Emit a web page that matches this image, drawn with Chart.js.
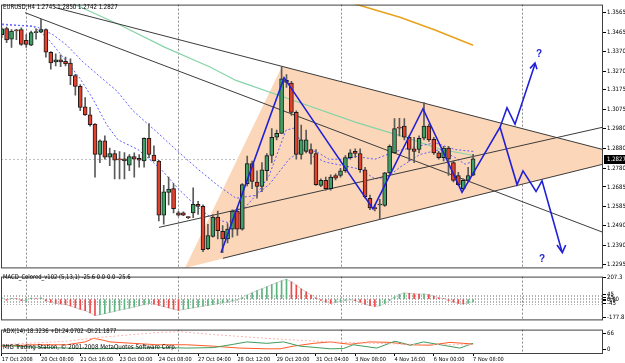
<!DOCTYPE html>
<html><head><meta charset="utf-8">
<script src="https://cdn.jsdelivr.net/npm/chart.js@4.4.1/dist/chart.umd.min.js"></script>
<style>
html,body{margin:0;padding:0;background:#fff;width:625px;height:363px;overflow:hidden;position:relative;}
canvas{position:absolute;left:0;}
.t{position:absolute;left:3px;font-family:"Liberation Sans Narrow","Arial Narrow","DejaVu Sans Condensed","Liberation Sans",sans-serif;font-size:7px;line-height:8px;color:#000;white-space:nowrap;transform:scaleX(0.86);transform-origin:0 0;}
</style></head><body>
<canvas id="main" width="625" height="273" style="top:0px"></canvas>
<canvas id="macd" width="625" height="53" style="top:272px"></canvas>
<canvas id="adx" width="625" height="38" style="top:325px"></canvas>
<div class="t" style="top:3px">EURUSD,H4 1.2745 1.2850 1.2742 1.2827</div>
<div class="t" style="top:273px;font-size:6.5px;transform:scaleX(0.9)">MACD_Colored_v102 (5,13,1) -25.6 0.0 0.0 -25.6</div>
<div class="t" style="top:327px;font-size:6.5px;transform:scaleX(0.9)">ADX(14) 18.3236 +DI:24.0702 -DI:21.1877</div>
<div class="t" style="top:343px;font-size:6.5px;transform:scaleX(0.95)">MIG Trading Station, © 2001-2008 MetaQuotes Software Corp.</div>
<script>
// ---------------- DATA ----------------
const opens = [1.3454,1.3485,1.3431,1.3476,1.3480,1.3426,1.3401,1.3464,1.3467,1.3480,1.3365,1.3316,1.3327,1.3320,1.3311,1.3247,1.3193,1.3090,1.3049,1.3002,1.2849,1.2918,1.2836,1.2853,1.2825,1.2827,1.2795,1.2838,1.2830,1.2816,1.2931,1.2846,1.2816,1.2543,1.2658,1.2677,1.2554,1.2554,1.2532,1.2554,1.2598,1.2587,1.2374,1.2435,1.2533,1.2461,1.2423,1.2472,1.2563,1.2472,1.2702,1.2803,1.2710,1.2688,1.2767,1.2844,1.2936,1.2956,1.3223,1.3209,1.3062,1.2849,1.2865,1.2874,1.2854,1.2693,1.2718,1.2677,1.2743,1.2743,1.2767,1.2833,1.2865,1.2854,1.2772,1.2628,1.2581,1.2594,1.2592,1.2756,1.2857,1.2987,1.2992,1.2936,1.2877,1.2874,1.2931,1.2992,1.2926,1.2857,1.2833,1.2882,1.2808,1.2743,1.2677,1.2718,1.2745];
const highs = [1.3488,1.3492,1.3480,1.3481,1.3488,1.3454,1.3472,1.3483,1.3532,1.3483,1.3369,1.3357,1.3352,1.3341,1.3332,1.3254,1.3202,1.3136,1.3087,1.3005,1.2923,1.2943,1.2882,1.2870,1.2864,1.2859,1.2849,1.2858,1.2849,1.2933,1.3005,1.2893,1.2820,1.2693,1.2735,1.2702,1.2562,1.2559,1.2535,1.2681,1.2613,1.2595,1.2497,1.2546,1.2563,1.2490,1.2500,1.2570,1.2579,1.2702,1.2841,1.2816,1.2767,1.2808,1.2854,1.2980,1.2972,1.3292,1.3252,1.3218,1.3070,1.2997,1.2972,1.2903,1.2874,1.2726,1.2735,1.2746,1.2751,1.2779,1.2844,1.2874,1.2877,1.2877,1.2784,1.2644,1.2594,1.2623,1.2759,1.2898,1.3030,1.3031,1.3030,1.2943,1.2936,1.2943,1.3111,1.3002,1.2936,1.2865,1.2890,1.2890,1.2816,1.2759,1.2726,1.2784,1.2850];
const lows = [1.3439,1.3414,1.3390,1.3429,1.3400,1.3390,1.3398,1.3431,1.3464,1.3341,1.3280,1.3296,1.3292,1.3296,1.3202,1.3149,1.3070,1.3046,1.2992,1.2735,1.2808,1.2825,1.2792,1.2726,1.2726,1.2726,1.2767,1.2735,1.2785,1.2785,1.2833,1.2815,1.2513,1.2497,1.2595,1.2554,1.2537,1.2540,1.2525,1.2530,1.2546,1.2358,1.2369,1.2431,1.2423,1.2353,1.2402,1.2431,1.2441,1.2467,1.2690,1.2677,1.2628,1.2661,1.2718,1.2808,1.2923,1.2956,1.3188,1.3046,1.2825,1.2825,1.2857,1.2800,1.2693,1.2686,1.2669,1.2669,1.2721,1.2735,1.2759,1.2825,1.2834,1.2759,1.2628,1.2570,1.2564,1.2521,1.2587,1.2751,1.2854,1.2943,1.2923,1.2816,1.2808,1.2857,1.2923,1.2915,1.2849,1.2825,1.2816,1.2743,1.2710,1.2693,1.2669,1.2710,1.2742];
const closes = [1.3483,1.3428,1.3472,1.3473,1.3405,1.3405,1.3464,1.3466,1.3480,1.3365,1.3311,1.3327,1.3316,1.3306,1.3247,1.3193,1.3087,1.3049,1.3000,1.2849,1.2918,1.2836,1.2853,1.2820,1.2822,1.2817,1.2838,1.2825,1.2820,1.2931,1.2849,1.2816,1.2543,1.2661,1.2674,1.2575,1.2543,1.2543,1.2530,1.2598,1.2587,1.2369,1.2440,1.2533,1.2464,1.2423,1.2472,1.2563,1.2472,1.2697,1.2803,1.2713,1.2688,1.2771,1.2844,1.2936,1.2956,1.3231,1.3213,1.3062,1.2849,1.2923,1.2923,1.2854,1.2697,1.2718,1.2677,1.2735,1.2730,1.2767,1.2833,1.2858,1.2854,1.2772,1.2636,1.2579,1.2576,1.2598,1.2756,1.2890,1.2980,1.2982,1.2936,1.2874,1.2865,1.2931,1.2992,1.2923,1.2857,1.2833,1.2882,1.2825,1.2718,1.2697,1.2718,1.2743,1.2827];

const priceTicks = [1.3565,1.3465,1.3370,1.3270,1.3175,1.3075,1.2980,1.2880,1.2780,1.2685,1.2585,1.2490,1.2390,1.2295];
const currentPrice = 1.2827;
const timeLabelBars = [0,8,16,24,32,40,48,56,64,72,80,88,96];
const timeLabels = ['17 Oct 2008','20 Oct 08:00','21 Oct 16:00','23 Oct 00:00','24 Oct 08:00','27 Oct 04:00','28 Oct 12:00','29 Oct 20:00','31 Oct 04:00','3 Nov 08:00','4 Nov 16:00','6 Nov 00:00','7 Nov 08:00'];
const separatorBars = [5,36,69,106];

// moving averages
const greenMaX = [11.9,15.34,24.09,33.26,42.42,47.72,60.75,72.16,82.55,89.47,96.19];
const greenMaY = [1.3640,1.3601,1.3503,1.3390,1.3291,1.3223,1.3110,1.3011,1.2933,1.2874,1.2844];
const orangeMaX = [69.9,73.0,81.1,88.25,96.0];
const orangeMaY = [1.3626,1.3601,1.3542,1.3478,1.3400];
const dotFastX = [0.06,6.37,9.23,12.48,15.95,18.59,21.45,23.69,27.76,32.44,35.91,39.37,42.63,46.09,48.53,51.79,54.44,57.90,59.53,61.37,63.40,66.05,70.12,72.97,76.03,78.68,81.12,85.19,89.27,92.32,94.36,96.19];
const dotFastY = [1.3504,1.3498,1.3439,1.3341,1.3233,1.3129,1.2997,1.2923,1.2874,1.2775,1.2677,1.2594,1.2530,1.2505,1.2554,1.2643,1.2741,1.2972,1.2982,1.2888,1.2839,1.2810,1.2790,1.2775,1.2726,1.2736,1.2785,1.2849,1.2874,1.2834,1.2800,1.2815];
const dotSlowX = [0.06,7.19,10.45,13.3,16.56,20.02,23.48,26.74,31.83,35.91,39.98,44.05,47.72,51.79,54.64,58.52,61.37,64.01,66.66,70.12,72.16,76.03,80.10,84.17,88.25,92.32,96.19];
const dotSlowY = [1.3508,1.3493,1.3454,1.3400,1.3316,1.3242,1.3169,1.3070,1.2957,1.2864,1.2775,1.2692,1.2628,1.2643,1.2702,1.2825,1.2874,1.2864,1.2825,1.2825,1.2839,1.2825,1.2864,1.2888,1.2908,1.2874,1.2864];

// trend lines [x1, y1, x2, y2]
const trendLines = [
  [4.75,1.3565,122.46,1.2456],
  [10.86,1.3591,122.46,1.2874],
  [32.04,1.2481,122.46,1.2987],
  [45.07,1.2325,122.46,1.2800]
];
const pennantX = [37.33,57.09,122.5,122.5,37.33];
const pennantY = [1.2276,1.3294,1.2874,1.2800,1.2276];

// hand-drawn wave projection
const waveX = [44.67,57.5,75.62,85.8,93.75,101.49,102.91,104.54,108.61];
const waveY = [1.2353,1.3237,1.2574,1.3080,1.2658,1.2987,1.3085,1.3002,1.3306];
const wave2X = [101.49,104.95,106.17,108.82,110.04,114.11];
const wave2Y = [1.2987,1.2697,1.2766,1.2662,1.2716,1.2358];
const arrowUpX = [107.6,108.61,109.02];
const arrowUpY = [1.3284,1.3311,1.3279];
const arrowDnX = [113.09,114.18,114.86];
const arrowDnY = [1.2392,1.2354,1.2392];
const questionX = [109.43,110.04];
const questionY = [1.3355,1.2318];

// MACD
const macdValues = [12,-10,8,6,-14,-12,10,5,12,
 -18,-30,-40,-46,-52,-66,-82,-98,-112,-132,-158,
 -150,-140,-128,-118,-106,-96,-86,-76,-64,-52,-40,
 -48,-60,-72,-84,-96,-108,
 -100,-92,-84,-76,-68,-60,-52,-44,-36,-28,-18,-8,
 15,40,62,82,100,120,140,158,178,192,
 168,135,100,70,40,12,
 -12,-28,-40,-32,-22,
 -12,-6,-14,-30,
 -50,-62,-70,-64,
 -42,-14,
 22,46,60,
 56,52,48,50,44,30,
 14,4,
 -12,-28,-42,-46,-38,-25.6];
const macdTicks = [207.3,45,15,0,-15,-45,-177.8];
const macdTickLabels = ['207.3','45','15','0.00','-15','-45','-177.8'];
const macdLevels = [45,30,15,0,-15,-30,-45];

// ADX
const minusDiX = [0,6.4,13.2,17,18.7,20.5,22,26.8,31.6,37.7,43.1,48.5,54,56.7,59.4,63.5,66.9,70.9,75,79.1,83.2,87.2,91.3,94,96];
const minusDiY = [12,18,18,30,45,38,30,24,18,18,12,4,1,1,12,24,30,20,30,28,18,16,28,24,21.19];
const plusDiX = [0,6.4,13.2,18.7,26.8,33.6,37.7,43.1,47.2,49.9,54,57.4,60.8,64.2,66.9,69.6,71.6,76.4,80.1,83.2,85.9,89.9,93.3,96];
const plusDiY = [16,8,4,1,4,6,4,6,20,30,24,30,12,6,1,2,18,4,33,16,30,16,4,24.07];
const adxX = [0,13.2,20,26.8,32.2,36.3,43.1,51.2,58,64.2,69.6,76.4,83.2,89.9,96];
const adxY = [18,33,49,61,70,73,61,49,40,33,28,24,20,18,18.32];
const adxTicks = [66,0];

// ---------------- STYLE / HELPERS ----------------
const FONT = '"Liberation Sans Narrow","Arial Narrow","DejaVu Sans Condensed","Liberation Sans",sans-serif';
const X_MIN = -0.1426, X_MAX = 122.46;
const pts = (xs, ys) => xs.map((x, k) => ({x, y: ys[k]}));
const lineDs = (data, color, width, extra) => Object.assign({type:'line', data, borderColor:color, borderWidth:width, pointRadius:0, fill:false, tension:0, clip:0}, extra || {});

const framePlugin = {
  id:'frame',
  afterDraw(chart){
    const {ctx, chartArea:ca} = chart;
    ctx.save(); ctx.strokeStyle = '#404040'; ctx.lineWidth = 1;
    ctx.strokeRect(ca.left+0.5, ca.top+0.5, ca.right-ca.left-1, ca.bottom-ca.top-1);
    ctx.restore();
  }
};
const sepPlugin = {
  id:'sep',
  beforeDatasetsDraw(chart){
    const {ctx, chartArea:ca, scales} = chart;
    ctx.save(); ctx.strokeStyle = '#8a8a8a'; ctx.lineWidth = 1; ctx.setLineDash([2,2]);
    separatorBars.forEach(b => {
      const px = Math.round(scales.x.getPixelForValue(b)) + 0.5;
      ctx.beginPath(); ctx.moveTo(px, ca.top); ctx.lineTo(px, ca.bottom); ctx.stroke();
    });
    ctx.restore();
  }
};
const rightAxis = (min, max, ticks, fmt) => ({
  position:'right', min, max,
  afterBuildTicks: s => { s.ticks = ticks.map(v => ({value:v})); },
  afterFit: s => { s.width = 22; },
  grid:{drawOnChartArea:false, drawTicks:true, tickLength:3, color:'#000'},
  border:{display:false},
  ticks:{autoSkip:false, padding:1, color:'#000', font:{family:FONT, size:6}, callback: fmt}
});
const xAxisHidden = {type:'linear', min:X_MIN, max:X_MAX, offset:false, display:false};
const common = {
  animation:false, responsive:false, devicePixelRatio:1,
  plugins:{legend:{display:false}, tooltip:{enabled:false}}
};

// ---------------- MAIN CHART ----------------
const wickData = lows.map((l, i) => ({x:i, y:[l, highs[i]]}));
const bodyData = opens.map((o, i) => ({x:i, y:[o, closes[i]]}));
const bodyColors = opens.map((o, i) => closes[i] >= o ? '#3f9f66' : '#e4412c');

const mainPlugin = {
  id:'mainDeco',
  beforeDatasetsDraw(chart){
    const {ctx, chartArea:ca, scales:{y}} = chart;
    const py = Math.round(y.getPixelForValue(currentPrice)) + 0.5;
    ctx.save(); ctx.strokeStyle = '#c0c0c0'; ctx.lineWidth = 1; ctx.setLineDash([2,2]);
    ctx.beginPath(); ctx.moveTo(ca.left, py); ctx.lineTo(ca.right, py); ctx.stroke();
    ctx.restore();
  },
  afterDatasetsDraw(chart){
    const {ctx, scales:{x, y}} = chart;
    ctx.save(); ctx.fillStyle = '#2424d8'; ctx.font = 'bold 10px "Liberation Sans",sans-serif';
    ctx.textAlign = 'center'; ctx.textBaseline = 'middle';
    questionX.forEach((qx, k) => ctx.fillText('?', x.getPixelForValue(qx), y.getPixelForValue(questionY[k])));
    ctx.restore();
  },
  afterDraw(chart){
    const {ctx, chartArea:ca, scales:{y}} = chart;
    const py = Math.round(y.getPixelForValue(currentPrice));
    ctx.save(); ctx.fillStyle = '#000'; ctx.fillRect(ca.right+1, py-4, 22, 9);
    ctx.fillStyle = '#fff'; ctx.font = '6px ' + FONT; ctx.textBaseline = 'middle'; ctx.textAlign = 'left';
    ctx.fillText(currentPrice.toFixed(4), ca.right+4, py+0.5);
    ctx.restore();
  }
};

new Chart(document.getElementById('main'), {
  type:'bar',
  data:{datasets:[
    lineDs(pts(pennantX, pennantY), 'rgba(0,0,0,0)', 0, {fill:'shape', backgroundColor:'#fbd6b8', order:20}),
    lineDs(pts(greenMaX, greenMaY), '#86d3a8', 1.2, {order:15}),
    lineDs(pts(orangeMaX, orangeMaY), '#e8a31c', 1.6, {order:15}),
    lineDs(pts(dotFastX, dotFastY), '#6060ff', 1, {borderDash:[2,2], order:14}),
    lineDs(pts(dotSlowX, dotSlowY), '#6060ff', 1, {borderDash:[2,2], order:14}),
    ...trendLines.map(t => lineDs([{x:t[0], y:t[1]}, {x:t[2], y:t[3]}], '#3c3c3c', 1, {order:13})),
    {type:'bar', data:wickData, backgroundColor:'#5a5a5a', barThickness:1, grouped:false, order:8},
    {type:'bar', data:bodyData, backgroundColor:bodyColors, borderColor:'#1a1a1a', borderWidth:1, borderSkipped:false, barThickness:4, minBarLength:1, grouped:false, order:7},
    lineDs(pts(waveX, waveY), '#2020d8', 1.6, {order:2}),
    lineDs(pts(wave2X, wave2Y), '#2020d8', 1.6, {order:2}),
    lineDs(pts(arrowUpX, arrowUpY), '#2020d8', 1.6, {order:1}),
    lineDs(pts(arrowDnX, arrowDnY), '#2020d8', 1.6, {order:1})
  ]},
  options:Object.assign({}, common, {
    layout:{padding:{left:1, right:0, top:1, bottom:1}},
    scales:{
      x:xAxisHidden,
      y:rightAxis(1.22739, 1.36058, priceTicks, v => Number(v).toFixed(4))
    }
  }),
  plugins:[sepPlugin, mainPlugin, framePlugin]
});

// ---------------- MACD CHART ----------------
const macdColors = macdValues.map((v, i) => (i === 0 || v >= macdValues[i-1]) ? '#5cb47e' : '#ee4848');
const macdPlugin = {
  id:'macdLevels',
  beforeDatasetsDraw(chart){
    const {ctx, chartArea:ca, scales:{y}} = chart;
    ctx.save(); ctx.strokeStyle = '#b0b0b0'; ctx.lineWidth = 1; ctx.setLineDash([1,2]);
    macdLevels.forEach(l => {
      const py = Math.round(y.getPixelForValue(l)) + 0.5;
      ctx.beginPath(); ctx.moveTo(ca.left, py); ctx.lineTo(ca.right, py); ctx.stroke();
    });
    ctx.restore();
  }
};
new Chart(document.getElementById('macd'), {
  type:'bar',
  data:{datasets:[
    lineDs(macdValues.map((v, i) => ({x:i, y:v})), '#d2d2d2', 1, {order:5}),
    {type:'bar', data:macdValues.map((v, i) => ({x:i, y:v})), backgroundColor:macdColors, barThickness:1, grouped:false, order:3}
  ]},
  options:Object.assign({}, common, {
    layout:{padding:{left:1, right:0, top:1, bottom:1}},
    scales:{
      x:xAxisHidden,
      y:rightAxis(-205.2, 218.1, macdTicks, (v, k) => macdTickLabels[k])
    }
  }),
  plugins:[sepPlugin, macdPlugin, framePlugin]
});

// ---------------- ADX CHART ----------------
new Chart(document.getElementById('adx'), {
  type:'line',
  data:{datasets:[
    lineDs(pts(adxX, adxY), '#ffb4b4', 1, {borderDash:[2,2]}),
    lineDs(pts(plusDiX, plusDiY), '#3f9c5e', 1),
    lineDs(pts(minusDiX, minusDiY), '#ff5a26', 1)
  ]},
  options:Object.assign({}, common, {
    layout:{padding:{left:1, right:0, top:1, bottom:0}},
    scales:{
      x:{type:'linear', min:X_MIN, max:X_MAX, offset:false, position:'bottom',
         afterBuildTicks: s => { s.ticks = timeLabelBars.map(v => ({value:v})); },
         afterFit: s => { s.height = 9; },
         grid:{drawOnChartArea:false, drawTicks:true, tickLength:2, color:'#000'},
         border:{display:false},
         ticks:{autoSkip:false, maxRotation:0, align:'start', padding:0, color:'#000', font:{family:FONT, size:5.6},
                callback:(v, k) => timeLabels[k]}},
      y:rightAxis(-20.9, 81.8, adxTicks, v => String(v))
    }
  }),
  plugins:[sepPlugin, framePlugin]
});
</script>
</body></html>
